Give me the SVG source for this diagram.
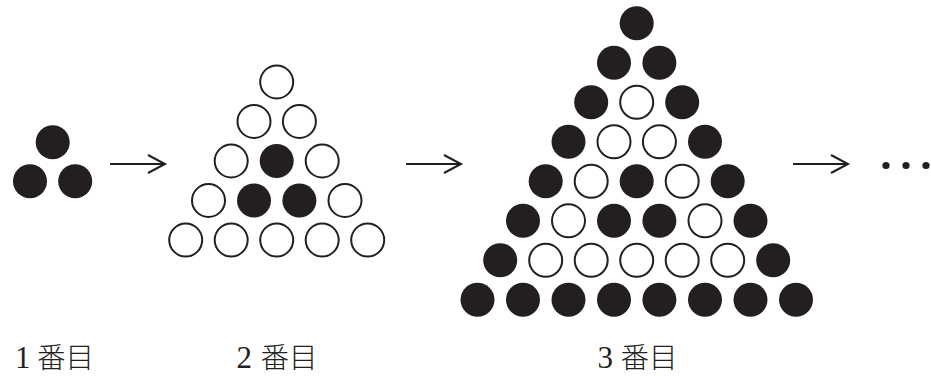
<svg xmlns="http://www.w3.org/2000/svg" width="931" height="376" viewBox="0 0 931 376">
  <style>
    .b { fill: #231f20; }
    .w { fill: #fff; stroke: #231f20; stroke-width: 2; }
    .arrow { fill: none; stroke: #231f20; stroke-width: 2; stroke-linejoin: miter; }
    .num { font-family: "Liberation Serif", "Times New Roman", serif; font-size: 31px; fill: #231f20; }
    .kan { font-family: "Noto Sans CJK JP", "Noto Sans CJK SC", sans-serif; font-size: 28.5px; font-weight: 300; fill: #231f20; }
  </style>

  <!-- stage 1 -->
  <g id="stage1">
    <circle class="b" cx="52.7" cy="142.3" r="17"/>
    <circle class="b" cx="30" cy="181.3" r="17"/>
    <circle class="b" cx="75.2" cy="181.3" r="17"/>
  </g>

  <!-- stage 2 -->
  <g id="stage2">
    <circle class="w" cx="276.7" cy="82" r="16.5"/>
    <circle class="w" cx="254" cy="121.5" r="16.5"/>
    <circle class="w" cx="299.4" cy="121.5" r="16.5"/>
    <circle class="w" cx="231.2" cy="161" r="16.5"/>
    <circle class="b" cx="276.7" cy="161" r="17"/>
    <circle class="w" cx="322.2" cy="161" r="16.5"/>
    <circle class="w" cx="208.5" cy="200.5" r="16.5"/>
    <circle class="b" cx="254" cy="200.5" r="17"/>
    <circle class="b" cx="299.4" cy="200.5" r="17"/>
    <circle class="w" cx="345" cy="200.5" r="16.5"/>
    <circle class="w" cx="185.7" cy="240" r="16.5"/>
    <circle class="w" cx="231.2" cy="240" r="16.5"/>
    <circle class="w" cx="276.7" cy="240" r="16.5"/>
    <circle class="w" cx="322.2" cy="240" r="16.5"/>
    <circle class="w" cx="367.7" cy="240" r="16.5"/>
  </g>

  <!-- stage 3 -->
  <g id="stage3">
    <circle class="b" cx="636.7" cy="23.3" r="17"/>

    <circle class="b" cx="614" cy="62.8" r="17"/>
    <circle class="b" cx="659.4" cy="62.8" r="17"/>

    <circle class="b" cx="591.2" cy="102.3" r="17"/>
    <circle class="w" cx="636.7" cy="102.3" r="16.5"/>
    <circle class="b" cx="682.2" cy="102.3" r="17"/>

    <circle class="b" cx="568.5" cy="141.8" r="17"/>
    <circle class="w" cx="614" cy="141.8" r="16.5"/>
    <circle class="w" cx="659.4" cy="141.8" r="16.5"/>
    <circle class="b" cx="705" cy="141.8" r="17"/>

    <circle class="b" cx="545.7" cy="181.3" r="17"/>
    <circle class="w" cx="591.2" cy="181.3" r="16.5"/>
    <circle class="b" cx="636.7" cy="181.3" r="17"/>
    <circle class="w" cx="682.2" cy="181.3" r="16.5"/>
    <circle class="b" cx="727.7" cy="181.3" r="17"/>

    <circle class="b" cx="523" cy="220.8" r="17"/>
    <circle class="w" cx="568.5" cy="220.8" r="16.5"/>
    <circle class="b" cx="614" cy="220.8" r="17"/>
    <circle class="b" cx="659.4" cy="220.8" r="17"/>
    <circle class="w" cx="705" cy="220.8" r="16.5"/>
    <circle class="b" cx="750.5" cy="220.8" r="17"/>

    <circle class="b" cx="500.2" cy="260.3" r="17"/>
    <circle class="w" cx="545.7" cy="260.3" r="16.5"/>
    <circle class="w" cx="591.2" cy="260.3" r="16.5"/>
    <circle class="w" cx="636.7" cy="260.3" r="16.5"/>
    <circle class="w" cx="682.2" cy="260.3" r="16.5"/>
    <circle class="w" cx="727.7" cy="260.3" r="16.5"/>
    <circle class="b" cx="773.2" cy="260.3" r="17"/>

    <circle class="b" cx="477.5" cy="299.8" r="17"/>
    <circle class="b" cx="523" cy="299.8" r="17"/>
    <circle class="b" cx="568.5" cy="299.8" r="17"/>
    <circle class="b" cx="614" cy="299.8" r="17"/>
    <circle class="b" cx="659.4" cy="299.8" r="17"/>
    <circle class="b" cx="705" cy="299.8" r="17"/>
    <circle class="b" cx="750.5" cy="299.8" r="17"/>
    <circle class="b" cx="796" cy="299.8" r="17"/>
  </g>

  <!-- arrows between stages -->
  <g id="connectors">
    <path class="arrow" d="M110,164 H164.5 M148,155 L165,164 L148,173"/>
    <path class="arrow" d="M406,164 H460.5 M444,155 L461,164 L444,173"/>
    <path class="arrow" d="M793,164 H847.5 M831,155 L848,164 L831,173"/>
  </g>

  <!-- continuation dots -->
  <g id="ellipsis">
    <circle class="b" cx="886" cy="165.5" r="3.6"/>
    <circle class="b" cx="906" cy="165.5" r="3.6"/>
    <circle class="b" cx="926" cy="165.5" r="3.6"/>
  </g>

  <!-- captions -->
  <g id="labels">
    <text y="368"><tspan class="num" x="15">1</tspan><tspan class="kan" x="37">番目</tspan></text>
    <text y="368"><tspan class="num" x="236.5">2</tspan><tspan class="kan" x="260.5">番目</tspan></text>
    <text y="368"><tspan class="num" x="597.5">3</tspan><tspan class="kan" x="620.5">番目</tspan></text>
  </g>
</svg>
